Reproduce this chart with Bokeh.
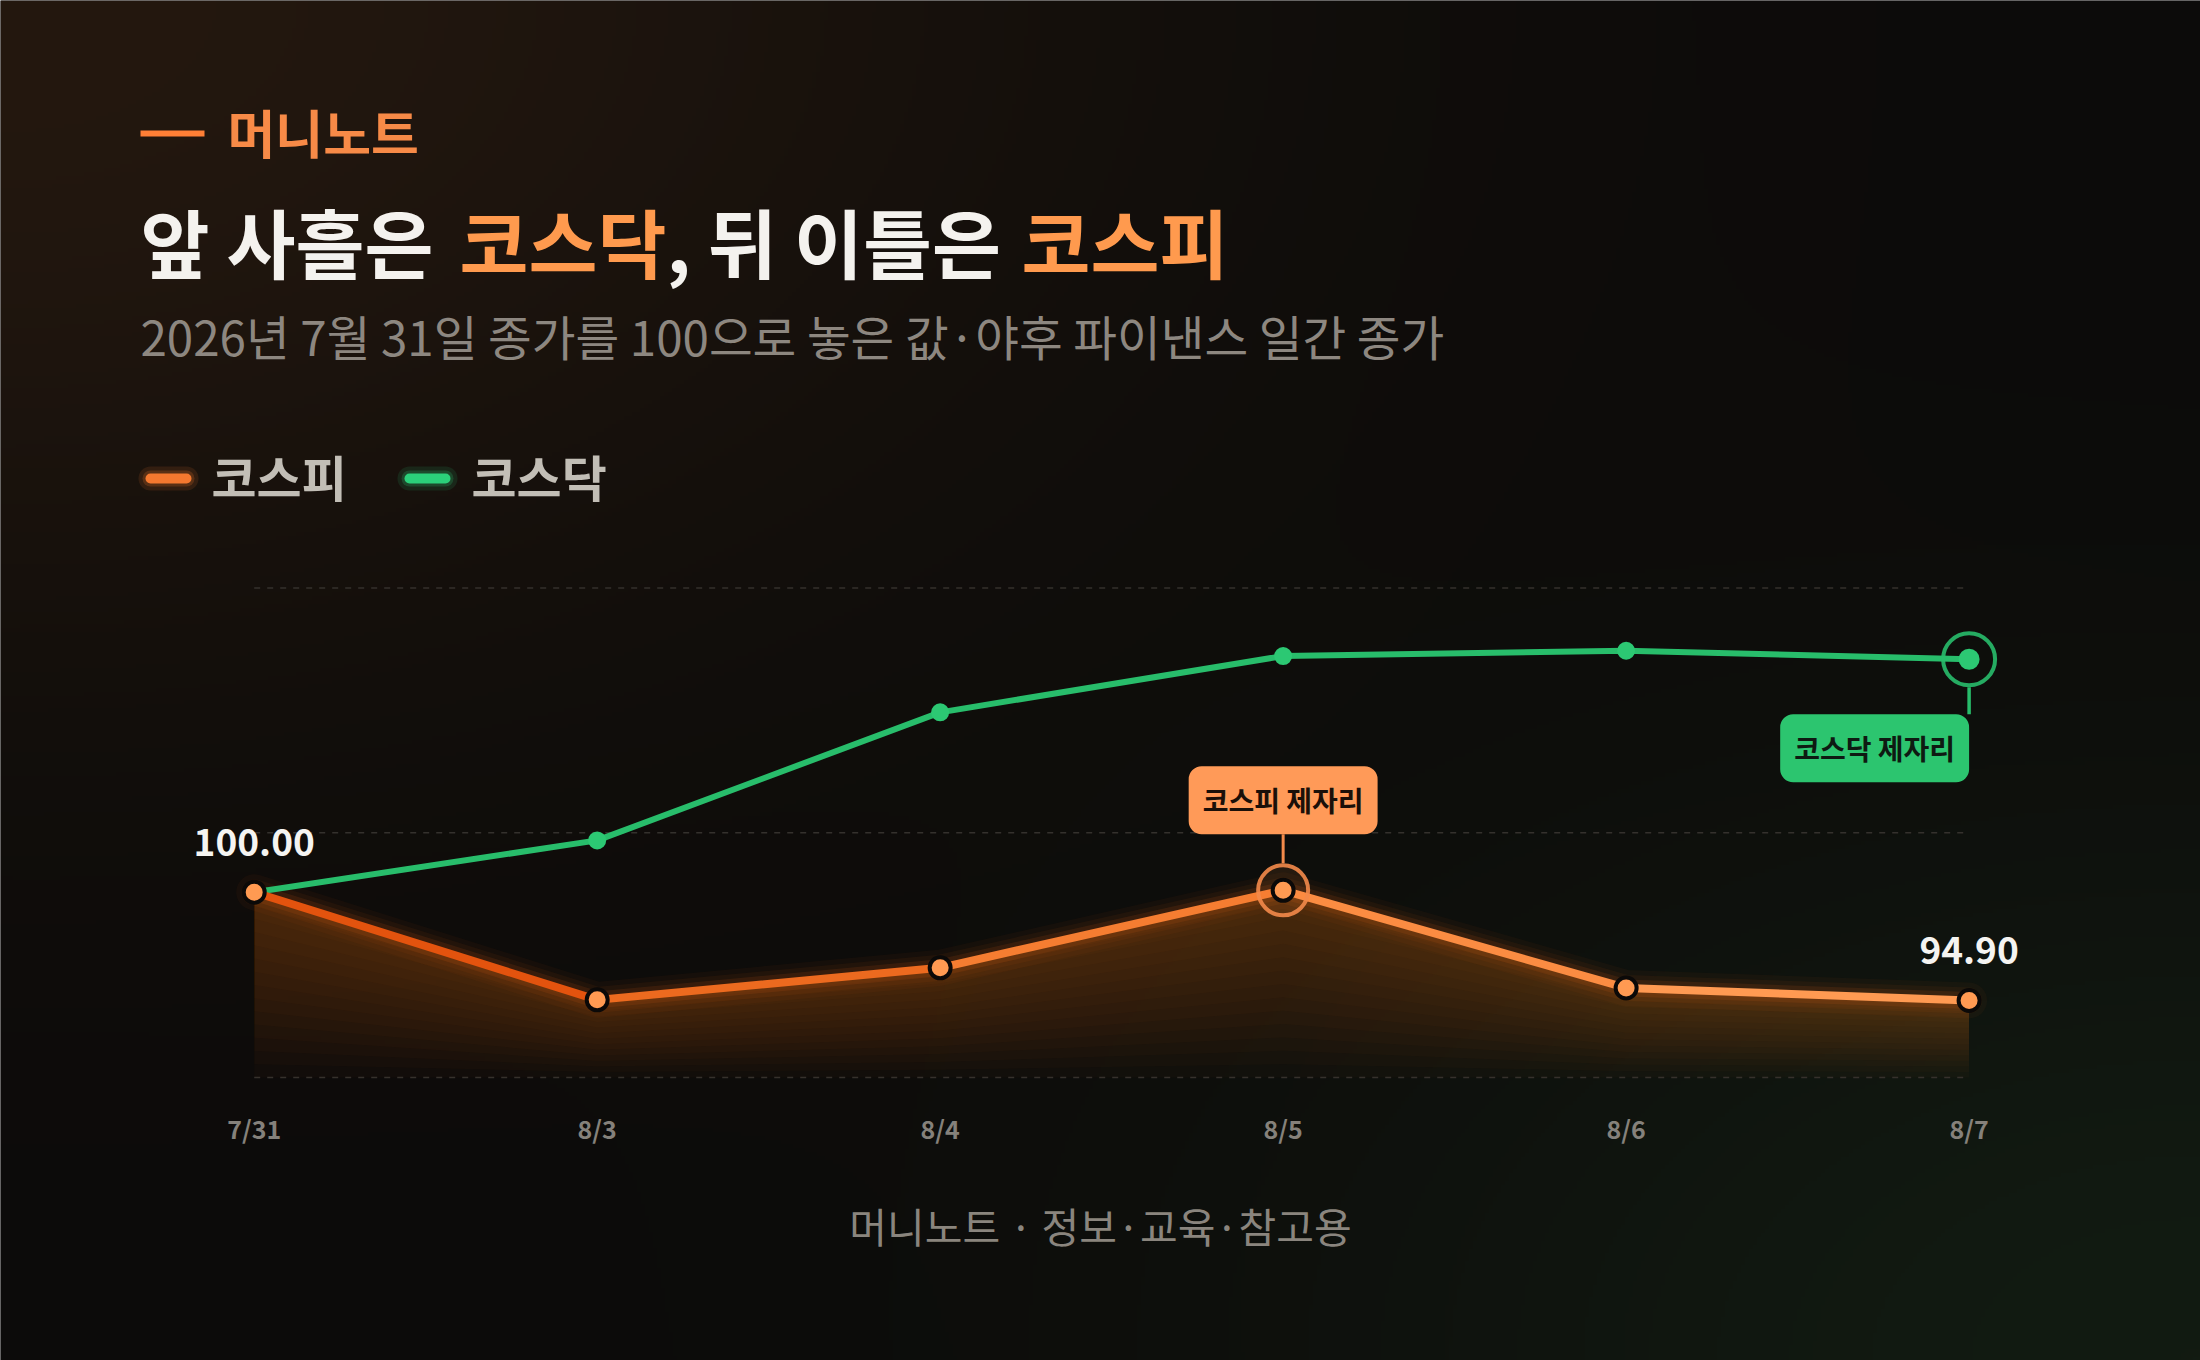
import numpy as np
from bokeh.plotting import figure
from bokeh.models import Range1d, Label
from bokeh.core.properties import value
from bokeh.embed import file_html
from bokeh.resources import INLINE

# ---- data -------------------------------------------------------------
dates = ["7/31", "8/3", "8/4", "8/5", "8/6", "8/7"]
kospi = [100.00, 94.93, 96.44, 100.09, 95.49, 94.90]
kosdaq = [100.00, 102.44, 108.47, 111.12, 111.37, 110.97]
series_names = ["코스피", "코스닥"]
grid_levels = [91.27, 102.80, 114.32]

brand = "머니노트"
title_parts = ["앞 사흘은 ", "코스닥", ", 뒤 이틀은 ", "코스피"]
subtitle = "2026년 7월 31일 종가를 100으로 놓은 값·야후 파이낸스 일간 종가"
footer = "머니노트 · 정보·교육·참고용"
callouts = ["코스피 제자리", "코스닥 제자리"]
kospi_mark, kosdaq_mark = 3, 5

# ---- layout (page pixels, origin top-left) ------------------------------
W, H = 2200, 1360
X0_PX, DX_PX = 253.7, 342.98      # where index 0 sits, px per step
Y100_PX, PPU = 891.7, 21.235      # where 100 sits, px per index point

FONT_NAME = "Noto Sans CJK KR"
FONT = value(FONT_NAME)
ORANGE = "#ff9a52"
GREEN = "#28bd6b"

xs = list(range(len(dates)))
x_start = -X0_PX / DX_PX
x_end = (W - X0_PX) / DX_PX
y_start = 100 - (H - Y100_PX) / PPU
y_end = 100 + Y100_PX / PPU

p = figure(width=W, height=H, output_backend="svg", toolbar_location=None,
           x_range=Range1d(x_start, x_end), y_range=Range1d(y_start, y_end),
           x_axis_location=None, y_axis_location=None, title=None,
           min_border=0, outline_line_color=None,
           background_fill_color="#0c0b0a", border_fill_color="#0c0b0a")
p.grid.visible = False
p.extra_x_ranges = {"px": Range1d(0, W)}
p.extra_y_ranges = {"px": Range1d(H, 0)}

# background glow: warm top-left, green bottom-right
gh, gw = 340, 550
rr, cc = np.mgrid[0:gh, 0:gw]
X = (cc + 0.5) * W / gw
Y = H - (rr + 0.5) * H / gh
tl = np.exp(-((X / 1050.0) ** 2 + (Y / 640.0) ** 2))
br = np.exp(-(((W - X) / 900.0) ** 2 + ((H - Y) / 560.0) ** 2))
img = np.empty((gh, gw), dtype=np.uint32)
view = img.view(dtype=np.uint8).reshape((gh, gw, 4))
view[:, :, 0] = np.clip(12 + 24 * tl + 6 * br, 0, 255)
view[:, :, 1] = np.clip(11 + 13 * tl + 16 * br, 0, 255)
view[:, :, 2] = np.clip(10 + 5 * tl + 8 * br, 0, 255)
view[:, :, 3] = 255
p.image_rgba(image=[img], x=x_start, y=y_start, dw=x_end - x_start, dh=y_end - y_start)

# dashed guide lines
p.segment(x0=[xs[0]] * len(grid_levels), x1=[xs[-1]] * len(grid_levels),
          y0=grid_levels, y1=grid_levels, line_color="#34312d",
          line_width=1.5, line_dash="6 7")

# shaded area under kospi, brighter near the line
base = grid_levels[0]
n_layers = 14
for k in range(1, n_layers + 1):
    f = k / n_layers
    lower = [v - f * (v - base) for v in kospi]
    p.varea(x=xs, y1=lower, y2=kospi, fill_color="#ff7426", fill_alpha=0.025)

# kospi glow
for w, a in [(36, 0.04), (26, 0.055), (17, 0.1)]:
    p.line(xs, kospi, line_color="#ff6a1a", line_width=w, line_alpha=a,
           line_join="round", line_cap="round")

# kosdaq line
p.line(xs, kosdaq, line_color=GREEN, line_width=6, line_join="round")

# kospi line, warming from deep to light orange
seg_colors = ["#e3530e", "#ec6a1f", "#f57d31", "#fb8c42", "#ff9a52"]
p.segment(x0=xs[:-1], y0=kospi[:-1], x1=xs[1:], y1=kospi[1:],
          line_color=seg_colors, line_width=8, line_cap="round")

# kosdaq points and end ring
p.scatter(xs[:-1], kosdaq[:-1], size=18, fill_color="#2cc873", line_color=None)
p.scatter([xs[kosdaq_mark]], [kosdaq[kosdaq_mark]], size=52, fill_color=None,
          line_color=GREEN, line_width=4, line_alpha=0.9)
p.scatter([xs[kosdaq_mark]], [kosdaq[kosdaq_mark]], size=21,
          fill_color="#2cc873", line_color=None)

# kospi ring and points
p.scatter([xs[kospi_mark]], [kospi[kospi_mark]], size=50, fill_color="#ff8a3d",
          fill_alpha=0.1, line_color="#f38a4a", line_width=4, line_alpha=0.9)
p.scatter(xs, kospi, size=21, fill_color=ORANGE, line_color="#0b0908", line_width=4)

# callout stems
p.segment(x0=[xs[kospi_mark]], x1=[xs[kospi_mark]],
          y0=[kospi[kospi_mark] + 27 / PPU], y1=[kospi[kospi_mark] + 56 / PPU],
          line_color="#f38a4a", line_width=3)
p.segment(x0=[xs[kosdaq_mark]], x1=[xs[kosdaq_mark]],
          y0=[kosdaq[kosdaq_mark] - 28 / PPU], y1=[kosdaq[kosdaq_mark] - 55 / PPU],
          line_color=GREEN, line_width=3.5)

p.add_layout(Label(x=xs[kospi_mark], y=kospi[kospi_mark], y_offset=56,
                   anchor="bottom_center", text=callouts[0],
                   text_font=FONT_NAME, text_font_style="bold", text_font_size="28px",
                   text_color="#1b1009", background_fill_color="#ff9a58",
                   border_radius=13, padding=14))
p.add_layout(Label(x=xs[kosdaq_mark], y=kosdaq[kosdaq_mark], y_offset=-55,
                   anchor="top_right", text=callouts[1],
                   text_font=FONT_NAME, text_font_style="bold", text_font_size="28px",
                   text_color="#0e1a12", background_fill_color="#2cc56f",
                   border_radius=13, padding=14))

# start / end values
p.text(x=[xs[0], xs[-1]], y=[kospi[0], kospi[-1]],
       text=[f"{kospi[0]:.2f}", f"{kospi[-1]:.2f}"], y_offset=-50,
       text_font=FONT, text_font_style="bold", text_font_size="37px",
       text_color="#f5f4f1", text_align="center", text_baseline="middle")

# date labels
p.text(x=xs, y=[1127] * len(xs), text=dates, y_range_name="px",
       text_font=FONT, text_font_style="bold", text_font_size="25px",
       text_color="#85817b", text_align="center", text_baseline="middle")

# header: brand, title, subtitle
p.segment(x0=[140], x1=[204], y0=[133], y1=[133], x_range_name="px", y_range_name="px",
          line_color="#ff7f36", line_width=6)
p.text(x=[227], y=[131], text=[brand], x_range_name="px", y_range_name="px",
       text_font=FONT, text_font_style="bold", text_font_size="52px",
       text_color="#f78a47", text_baseline="middle")

title_x = [140, 459, 666, 1021]
title_colors = ["#f4f2ee", "#ff9a4e", "#f4f2ee", "#ff9a4e"]
p.text(x=title_x, y=[240] * 4, text=title_parts, x_range_name="px", y_range_name="px",
       text_font=FONT, text_font_style="bold", text_font_size="75px",
       text_color=title_colors, text_baseline="middle")
p.text(x=[140], y=[335], text=[subtitle], x_range_name="px", y_range_name="px",
       text_font=FONT, text_font_size="47.5px", text_color="#8d8780",
       text_baseline="middle")

# legend
leg_x = [150, 409]
leg_colors = ["#f4782f", "#2bd07a"]
for w, a in [(24, 0.12), (16, 0.2)]:
    p.segment(x0=leg_x, x1=[x + 36 for x in leg_x], y0=[478, 478], y1=[478, 478],
              x_range_name="px", y_range_name="px", line_color=leg_colors,
              line_width=w, line_alpha=a, line_cap="round")
p.segment(x0=leg_x, x1=[x + 36 for x in leg_x], y0=[478, 478], y1=[478, 478],
          x_range_name="px", y_range_name="px", line_color=leg_colors,
          line_width=10, line_cap="round")
p.text(x=[211, 471], y=[475, 475], text=series_names, x_range_name="px", y_range_name="px",
       text_font=FONT, text_font_style="bold", text_font_size="49px",
       text_color="#c2beb6", text_baseline="middle")

# footer
p.text(x=[1100], y=[1224], text=[footer], x_range_name="px", y_range_name="px",
       text_font=FONT, text_font_size="41px", text_color="#8a857e",
       text_align="center", text_baseline="middle")

open("out.html", "w").write(file_html(p, INLINE))
